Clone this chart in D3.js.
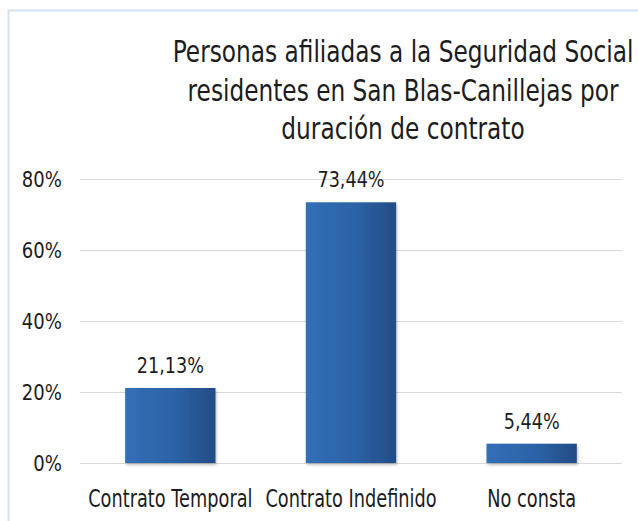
<!DOCTYPE html>
<html>
<head>
<meta charset="utf-8">
<script src="https://cdnjs.cloudflare.com/ajax/libs/d3/7.8.5/d3.min.js"></script>
<style>
  body { margin: 0; background: #fff; }
  text { font-family: "DejaVu Sans", sans-serif; fill: #1c1c1c; }
</style>
</head>
<body>
<script>
var titleLines = ["Personas afiliadas a la Seguridad Social", "residentes en San Blas-Canillejas por", "duración de contrato"];
var categories = ["Contrato Temporal", "Contrato Indefinido", "No consta"];
var values = [21.13, 73.44, 5.44];
var valueLabels = ["21,13%", "73,44%", "5,44%"];
var yTicks = [0, 20, 40, 60, 80];

var W = 638, H = 521;
var margin = {top: 179, right: 16, bottom: 58, left: 80};

var svg = d3.select("body").append("svg").
  attr("width", W).
  attr("height", H);

var defs = svg.append("defs");
var grad = defs.append("linearGradient").
  attr("id", "barGrad").
  attr("x1", "0").attr("x2", "1").attr("y1", "0").attr("y2", "0");
grad.append("stop").attr("offset", "0%").attr("stop-color", "#316fb8");
grad.append("stop").attr("offset", "55%").attr("stop-color", "#2c62a6");
grad.append("stop").attr("offset", "100%").attr("stop-color", "#234c85");

var shadow = defs.append("filter").attr("id", "shadow").
  attr("x", "-10%").attr("y", "-10%").attr("width", "130%").attr("height", "130%");
shadow.append("feDropShadow").
  attr("dx", 1).attr("dy", 2).attr("stdDeviation", 1.5).
  attr("flood-color", "#000").attr("flood-opacity", 0.25);

// chart area outline
svg.append("rect").
  attr("x", 8.5).attr("y", 10.5).
  attr("width", 700).attr("height", 600).
  attr("fill", "none").
  attr("stroke", "#d5e1ef").
  attr("stroke-width", 2);

var x = d3.scaleBand().
  domain(categories).
  range([margin.left, W - margin.right]).
  paddingInner(0.5).
  paddingOuter(0.25);

var y = d3.scaleLinear().
  domain([0, 80]).
  range([H - margin.bottom, margin.top]);

// squeezed text helper (reference glyphs are narrow)
function squeeze(sel, sx) {
  sel.attr("transform", function () {
    var t = d3.select(this);
    var px = +t.attr("data-x"), py = +t.attr("data-y");
    return "translate(" + px + "," + py + ") scale(" + sx + ",1)";
  });
}

// title
svg.append("g").selectAll("text").
  data(titleLines).
  join("text").
  attr("data-x", 403).
  attr("data-y", function (d, i) { return 62 + i * 38.5; }).
  attr("text-anchor", "middle").
  style("font-size", "31px").
  text(function (d) { return d; }).
  call(squeeze, 0.75);

// gridlines
svg.append("g").selectAll("line").
  data(yTicks).
  join("line").
  attr("x1", margin.left).
  attr("x2", W - margin.right).
  attr("y1", function (d) { return Math.round(y(d)) + 0.5; }).
  attr("y2", function (d) { return Math.round(y(d)) + 0.5; }).
  attr("stroke", "#d9d9d9").
  attr("stroke-width", 1);

// y labels
svg.append("g").selectAll("text").
  data(yTicks).
  join("text").
  attr("data-x", 62).
  attr("data-y", function (d) { return y(d) + 8; }).
  attr("text-anchor", "end").
  style("font-size", "21px").
  text(function (d) { return d + "%"; }).
  call(squeeze, 0.86);

// bars
svg.append("g").selectAll("rect").
  data(values).
  join("rect").
  attr("x", function (d, i) { return x(categories[i]); }).
  attr("y", function (d) { return y(d); }).
  attr("width", x.bandwidth()).
  attr("height", function (d) { return y(0) - y(d); }).
  attr("fill", "url(#barGrad)").
  attr("filter", "url(#shadow)");

// value labels
svg.append("g").selectAll("text").
  data(values).
  join("text").
  attr("data-x", function (d, i) { return x(categories[i]) + x.bandwidth() / 2; }).
  attr("data-y", function (d) { return y(d) - 15; }).
  attr("text-anchor", "middle").
  style("font-size", "22px").
  text(function (d, i) { return valueLabels[i]; }).
  call(squeeze, 0.8);

// category labels
svg.append("g").selectAll("text").
  data(categories).
  join("text").
  attr("data-x", function (d) { return x(d) + x.bandwidth() / 2; }).
  attr("data-y", 507).
  attr("text-anchor", "middle").
  style("font-size", "25px").
  text(function (d) { return d; }).
  call(squeeze, 0.71);
</script>
</body>
</html>
